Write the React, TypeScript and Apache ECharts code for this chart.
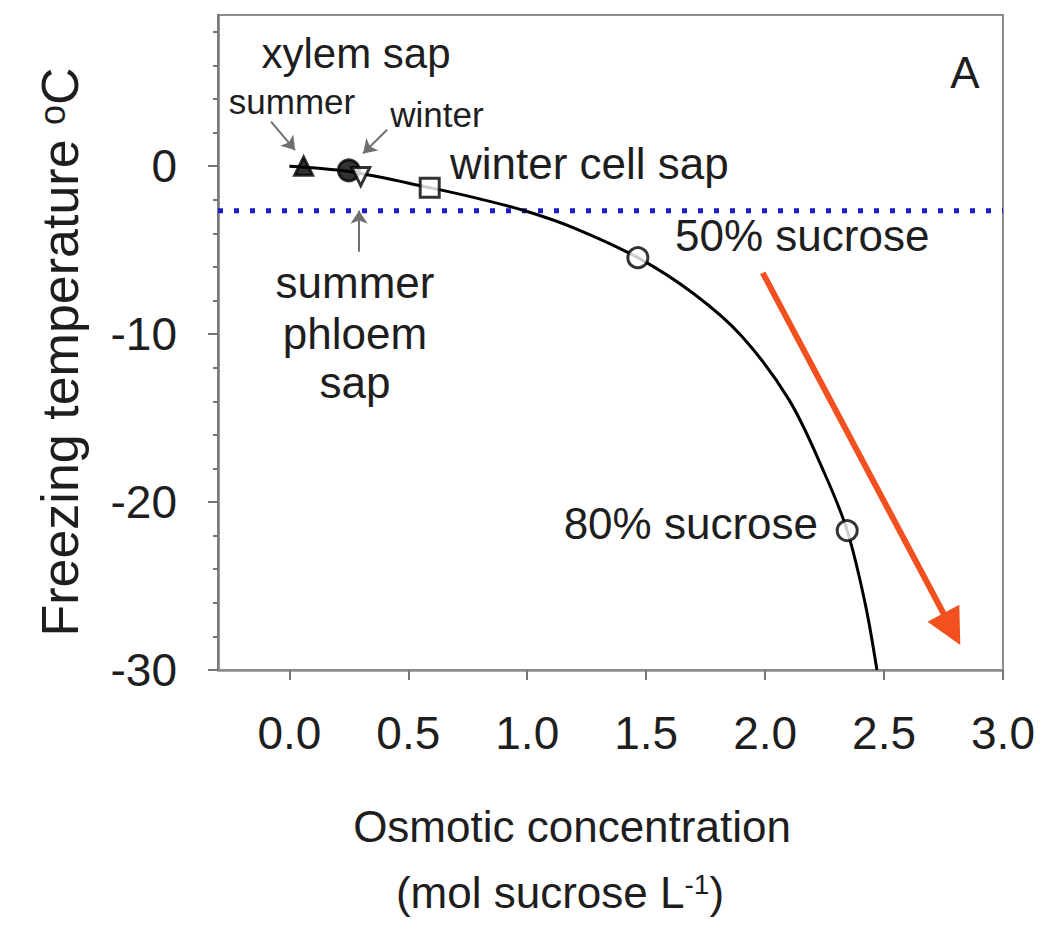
import React, { useEffect, useRef } from "react";
import * as echarts from "echarts";

// Axis ranges and tick positions
const xTicks = [0, 0.5, 1.0, 1.5, 2.0, 2.5, 3.0];
const yMajorTicks = [-30, -20, -10, 0];
const yMinorTicks = [-28, -26, -24, -22, -18, -16, -14, -12, -8, -6, -4, -2, 2, 4, 6, 8];

// Freezing-point curve of sucrose solutions
const curveConc = [0, 0.25, 0.59, 0.8, 1.0, 1.2, 1.465, 1.7, 1.9, 2.1, 2.25, 2.345, 2.42, 2.47];
const curveTemp = [0, -0.32, -1.28, -1.95, -2.7, -3.7, -5.45, -7.6, -10.1, -13.9, -18.3, -21.7, -26.0, -30];

// Measured saps and reference solutions: [concentration, freezing temperature]
const summerXylem = [0.06, 0.0];
const winterXylem = [0.25, -0.25];
const summerPhloem = [0.3, -0.62];
const winterCellSap = [0.59, -1.28];
const sucrose50 = [1.465, -5.45];
const sucrose80 = [2.345, -21.7];

// Horizontal reference level (dotted blue line)
const referenceTemp = -2.65;

// Pointer arrows: [from, to] in data units
const summerPointer = [[-0.077, 2.65], [0.024, 0.96]];
const winterPointer = [[0.411, 2.17], [0.31, 0.76]];
const phloemPointer = [[0.293, -5.1], [0.293, -2.65]];
const trendArrow = [[1.99, -6.35], [2.785, -27.57]];

const FONT = "'Liberation Sans', Arial, sans-serif";
const TEXT = "#1e1e1e";

export default function App() {
  const ref = useRef<HTMLDivElement>(null);

  useEffect(() => {
    if (!ref.current) return;
    const chart = echarts.init(ref.current, null, { renderer: "svg" });

    const marker = (
      name: string,
      pt: number[],
      symbol: string,
      size: number,
      fill: string,
      rotate = 0
    ) => ({
      name,
      type: "scatter",
      data: [pt],
      symbol,
      symbolSize: size,
      symbolRotate: rotate,
      itemStyle: { color: fill, borderColor: "#000", borderWidth: 3 },
      z: 5,
    });

    const pointer = (name: string, seg: number[][]) => ({
      name,
      type: "lines",
      coordinateSystem: "cartesian2d",
      data: [{ coords: seg }],
      symbol: ["none", "arrow"],
      symbolSize: 13,
      lineStyle: { color: "#6f6f6f", width: 2, opacity: 1 },
      z: 6,
    });

    const label = (text: string, x: number, y: number, size = 44, align = "center") => ({
      type: "text",
      x,
      y,
      style: {
        text,
        font: `${size}px ${FONT}`,
        fill: TEXT,
        align,
        verticalAlign: "middle",
      },
      z: 10,
    });

    chart.setOption({
      animation: false,
      backgroundColor: "#fff",
      grid: {
        left: 218,
        right: 41,
        top: 15,
        bottom: 260,
        show: true,
        borderColor: "#8c8c8c",
        borderWidth: 2,
        outerBoundsMode: "none",
      },
      xAxis: {
        type: "value",
        min: -0.3,
        max: 3.0,
        axisLine: { show: true, onZero: false, lineStyle: { color: "#8c8c8c", width: 2.5 } },
        axisTick: {
          show: true,
          customValues: xTicks,
          length: 10,
          lineStyle: { color: "#777", width: 2 },
        },
        axisLabel: {
          customValues: xTicks,
          formatter: (v: number) => v.toFixed(1),
          margin: 40,
          fontSize: 46,
          fontFamily: FONT,
          color: TEXT,
        },
        splitLine: { show: false },
      },
      yAxis: [
        {
          type: "value",
          min: -30,
          max: 9,
          axisLine: { show: true, onZero: false, lineStyle: { color: "#7a7a7a", width: 2.5 } },
          axisTick: {
            show: true,
            customValues: yMajorTicks,
            length: 10,
            lineStyle: { color: "#777", width: 2 },
          },
          axisLabel: {
            customValues: yMajorTicks,
            margin: 41,
            fontSize: 46,
            fontFamily: FONT,
            color: TEXT,
          },
          splitLine: { show: false },
        },
        {
          type: "value",
          min: -30,
          max: 9,
          position: "left",
          axisLine: { show: false, onZero: false },
          axisTick: {
            show: true,
            customValues: yMinorTicks,
            length: 5,
            lineStyle: { color: "#777", width: 2 },
          },
          axisLabel: { show: false },
          splitLine: { show: false },
        },
      ],
      series: [
        {
          name: "reference level",
          type: "line",
          data: [
            [-0.3, referenceTemp],
            [3.0, referenceTemp],
          ],
          symbol: "none",
          lineStyle: { color: "#1c1cc4", width: 5, type: [5, 11] },
          z: 2,
        },
        {
          name: "freezing curve",
          type: "line",
          data: curveConc.map((c, i) => [c, curveTemp[i]]),
          smooth: 0.35,
          symbol: "none",
          lineStyle: { color: "#000", width: 3 },
          z: 3,
        },
        marker("winter xylem sap", winterXylem, "circle", 21, "#000"),
        marker("summer phloem sap", summerPhloem, "triangle", 18, "#fff", 180),
        marker("summer xylem sap", summerXylem, "triangle", 18, "#000"),
        marker("winter cell sap", winterCellSap, "rect", 19, "#fff"),
        marker("50% sucrose", sucrose50, "circle", 20, "#fff"),
        marker("80% sucrose", sucrose80, "circle", 20, "#fff"),
        pointer("summer pointer", summerPointer),
        pointer("winter pointer", winterPointer),
        pointer("phloem pointer", phloemPointer),
        {
          name: "trend",
          type: "lines",
          coordinateSystem: "cartesian2d",
          data: [{ coords: trendArrow }],
          symbol: ["none", "triangle"],
          symbolSize: [38, 36],
          lineStyle: { color: "#f2501e", width: 6, opacity: 1 },
          itemStyle: { color: "#f2501e" },
          z: 4,
        },
      ],
      graphic: [
        label("xylem sap", 356, 53, 42),
        label("summer", 292, 101, 35),
        label("winter", 437, 114, 35),
        label("winter cell sap", 450, 163, 44, "left"),
        label("50% sucrose", 675, 235, 44, "left"),
        label("80% sucrose", 818, 523, 44, "right"),
        label("A", 965, 72, 44),
        label("summer", 355, 282, 44),
        label("phloem", 355, 333, 44),
        label("sap", 355, 382, 44),
        label("Osmotic concentration", 572, 826, 44),
        {
          type: "text",
          x: 560,
          y: 892,
          style: {
            text: "(mol sucrose L{sup|-1})",
            font: `44px ${FONT}`,
            fill: TEXT,
            align: "center",
            verticalAlign: "middle",
            rich: {
              sup: { fontSize: 28, fontFamily: FONT, fill: TEXT, verticalAlign: "top", padding: [0, 0, 10, 0] },
            },
          },
          z: 10,
        },
        {
          type: "text",
          x: 60,
          y: 352,
          rotation: Math.PI / 2,
          style: {
            text: "Freezing temperature {sup|o}C",
            font: `52px ${FONT}`,
            fill: TEXT,
            align: "center",
            verticalAlign: "middle",
            rich: {
              sup: { fontSize: 36, fontFamily: FONT, fill: TEXT, verticalAlign: "top", padding: [0, 0, 8, 0] },
            },
          },
          z: 10,
        },
      ],
    });

    return () => chart.dispose();
  }, []);

  return (
    <div
      ref={ref}
      style={{ position: "fixed", left: 0, top: 0, width: 1044, height: 930, background: "#fff" }}
    />
  );
}
